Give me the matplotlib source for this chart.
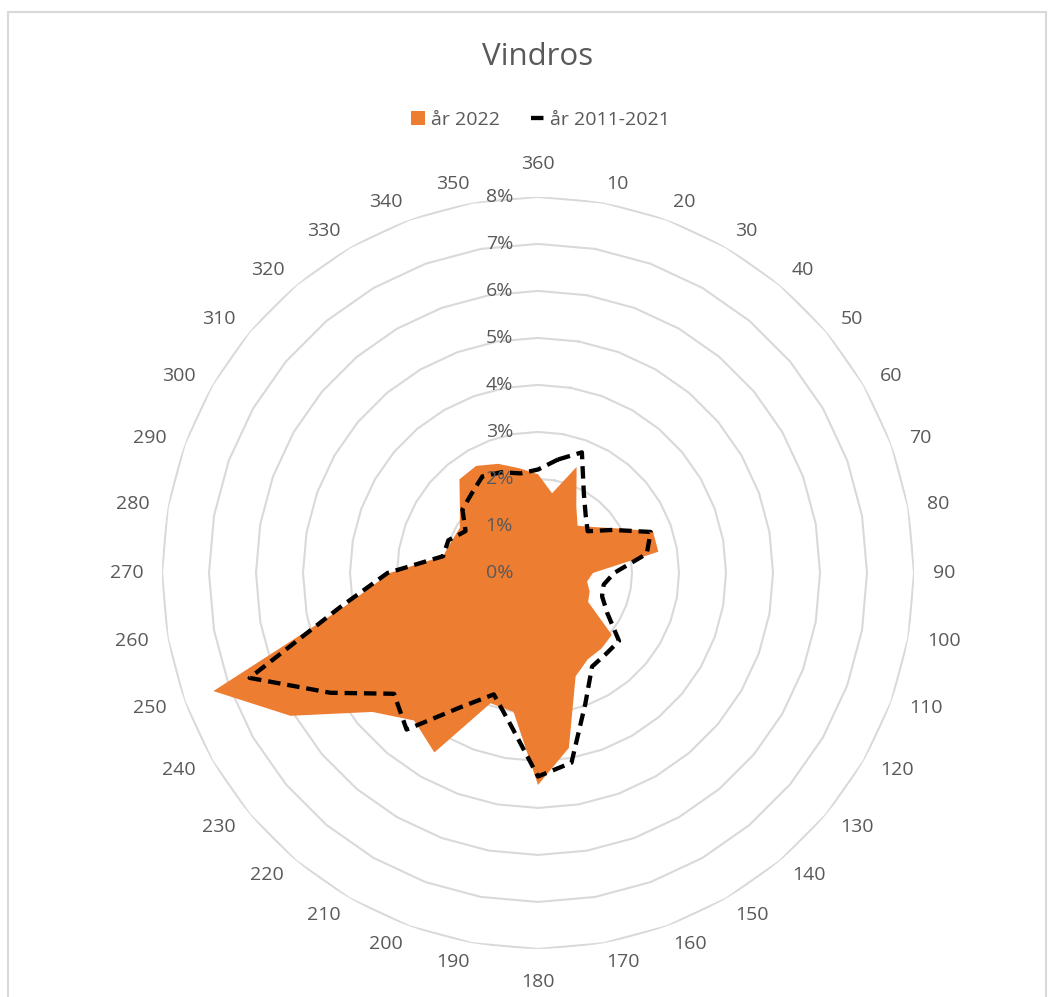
import numpy as np
import matplotlib
matplotlib.use('Agg')
import matplotlib.pyplot as plt
from matplotlib.patches import Patch, Rectangle
from matplotlib.lines import Line2D

plt.rcParams['font.family'] = ['Open Sans', 'DejaVu Sans']

# wind direction (degrees) and share of hours (%)
directions = [10, 20, 30, 40, 50, 60, 70, 80, 90, 100, 110, 120,
              130, 140, 150, 160, 170, 180, 190, 200, 210, 220, 230, 240,
              250, 260, 270, 280, 290, 300, 310, 320, 330, 340, 350, 360]
ar_2022 = [1.72, 2.40, 1.63, 1.31, 1.52, 1.90, 2.60, 2.60, 1.17, 1.06, 1.17, 1.23,
           2.05, 2.10, 2.12, 2.34, 3.78, 4.51, 3.00, 2.95, 4.41, 4.10, 4.60, 6.08,
           7.35, 4.20, 3.15, 2.05, 1.96, 1.92, 2.17, 2.60, 2.63, 2.47, 2.26, 2.10]
ar_2011_2021 = [2.45, 2.73, 1.95, 1.58, 1.38, 1.83, 2.55, 2.35, 1.62, 1.42, 1.45, 1.70,
                2.25, 2.25, 2.30, 2.95, 4.10, 4.33, 3.30, 2.75, 3.30, 4.35, 4.00, 5.10,
                6.53, 4.30, 3.20, 2.05, 2.03, 1.78, 2.10, 2.20, 2.37, 2.28, 2.15, 2.20]
pct_ticks = [0, 1, 2, 3, 4, 5, 6, 7, 8]

ORANGE = '#ED7D31'
GREY_TXT = '#595959'
GRID = '#D9D9D9'
DASH = (0, (2.9, 1.6))
LW = 3.1
FS = 14

th = np.deg2rad(directions)
th_c = np.append(th, th[0])
v22 = np.append(ar_2022, ar_2022[0])
vhist = np.append(ar_2011_2021, ar_2011_2021[0])

fig = plt.figure(figsize=(10.54, 9.97), dpi=100)
ax = fig.add_axes([0.1537, 0.0482, 0.7135, 0.7543], projection='polar')
ax.set_theta_zero_location('N')
ax.set_theta_direction(-1)
ax.set_ylim(0, 8)
ax.set_axis_off()

# polygon rings like excel radar
for k in pct_ticks[1:]:
    ax.plot(th_c, [k] * len(th_c), color=GRID, lw=1.5, zorder=1)

ax.fill(th_c, v22, color=ORANGE, lw=0, zorder=2)
ax.plot(th_c, vhist, color='black', lw=LW, ls=DASH, zorder=3)

# category labels: left/right aligned on the sides, centered top and bottom
for d, t in zip(directions, th):
    if d in (180, 360):
        ax.text(t, 8.70, str(d), ha='center', va='center', fontsize=FS,
                color=GREY_TXT, clip_on=False)
    else:
        ax.text(t, 8.40, str(d), ha='left' if d < 180 else 'right', va='center',
                fontsize=FS, color=GREY_TXT, clip_on=False)

for k in pct_ticks:
    ax.annotate(f'{k}%', xy=(0, k), xytext=(-25, 0), textcoords='offset pixels',
                ha='right', va='center', fontsize=FS, color=GREY_TXT, zorder=5)

fig.text(0.5104, 0.9425, 'Vindros', ha='center', va='center',
         fontsize=22.5, color=GREY_TXT)

handles = [Patch(facecolor=ORANGE, label='år 2022'),
           Line2D([0], [0], color='black', lw=LW, ls=DASH, label='år 2011-2021')]
fig.legend(handles=handles, loc='center', bbox_to_anchor=(0.513, 0.8796), ncol=2,
           frameon=False, fontsize=FS, labelcolor=GREY_TXT,
           handlelength=0.7, handleheight=0.7, handletextpad=0.3, columnspacing=1.6)

fig.add_artist(Rectangle((8 / 1054, -0.01), (1046 - 8) / 1054, (997 - 12) / 997 + 0.01,
                         transform=fig.transFigure, fill=False,
                         edgecolor=GRID, lw=1.5))

fig.savefig('out.png', dpi=100)
